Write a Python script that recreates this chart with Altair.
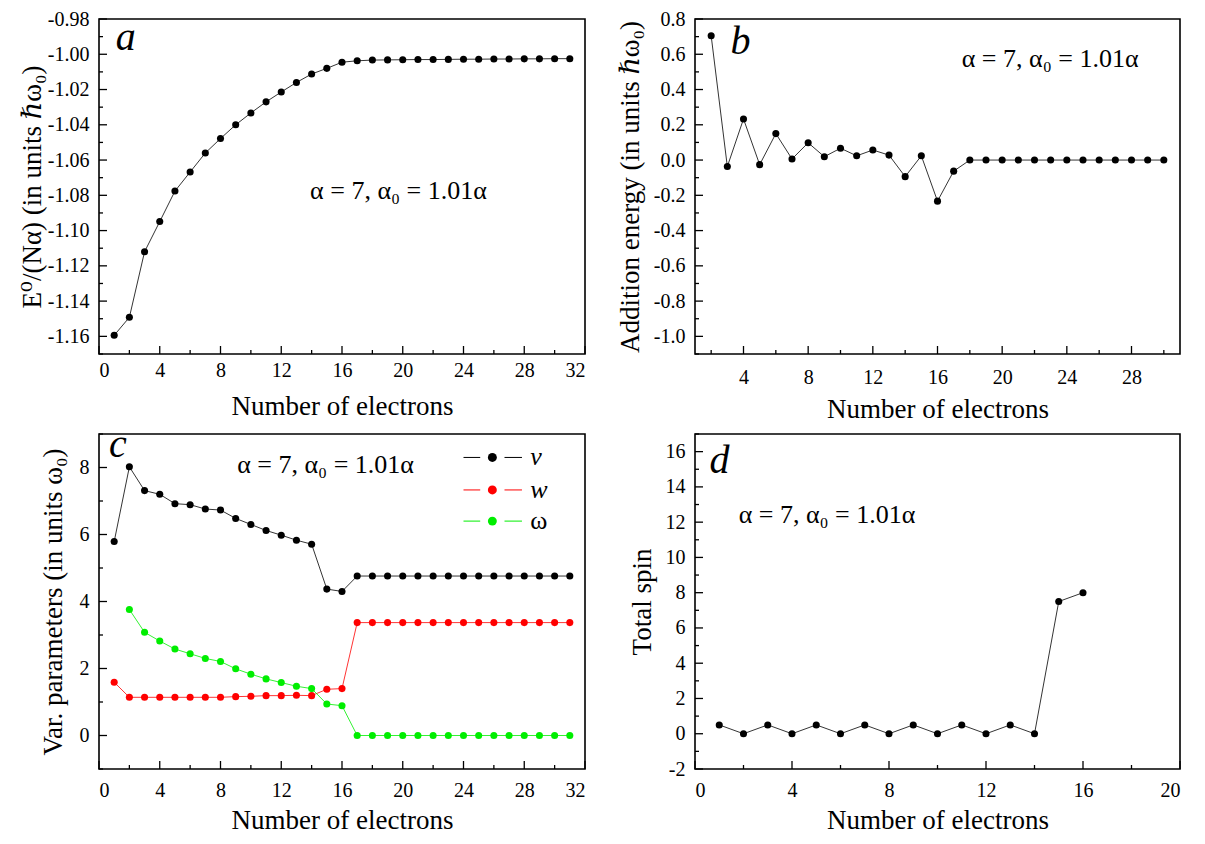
import altair as alt
import pandas as pd

# ---------------- data ----------------
# panel a: ground-state energy per particle
n_a = list(range(1, 32))
e_a = [-1.1594, -1.1492, -1.1120, -1.0949, -1.0776, -1.0668, -1.0560, -1.0478, -1.0400, -1.0333,
       -1.0270, -1.0214, -1.0160, -1.0112, -1.0080, -1.0045, -1.0037, -1.0033, -1.0032, -1.0031,
       -1.0030, -1.0030, -1.0029, -1.0028, -1.0028, -1.0027, -1.0027, -1.0026, -1.0026, -1.0025,
       -1.0025]

# panel b: addition energy
n_b = list(range(2, 31))
add_b = [0.705, -0.037, 0.233, -0.026, 0.150, 0.006, 0.098, 0.019, 0.067, 0.024,
         0.057, 0.028, -0.094, 0.024, -0.233, -0.063, 0.0, 0.0, 0.0, 0.0,
         0.0, 0.0, 0.0, 0.0, 0.0, 0.0, 0.0, 0.0, 0.0]

# panel c: variational parameters
n_c = list(range(1, 32))
v_c = [5.79, 8.02, 7.31, 7.20, 6.92, 6.89, 6.76, 6.73, 6.48, 6.30, 6.12, 5.98, 5.83, 5.71, 4.37, 4.30,
       4.76, 4.76, 4.76, 4.76, 4.76, 4.76, 4.76, 4.76, 4.76, 4.76, 4.76, 4.76, 4.76, 4.76, 4.76]
w_c = [1.59, 1.14, 1.14, 1.14, 1.14, 1.14, 1.14, 1.14, 1.16, 1.17, 1.19, 1.19, 1.20, 1.19, 1.38, 1.40,
       3.37, 3.37, 3.37, 3.37, 3.37, 3.37, 3.37, 3.37, 3.37, 3.37, 3.37, 3.37, 3.37, 3.37, 3.37]
n_om = list(range(2, 32))
om_c = [3.76, 3.08, 2.82, 2.58, 2.44, 2.30, 2.21, 1.99, 1.83, 1.69, 1.58, 1.47, 1.40, 0.94, 0.89,
        0.0, 0.0, 0.0, 0.0, 0.0, 0.0, 0.0, 0.0, 0.0, 0.0, 0.0, 0.0, 0.0, 0.0, 0.0]
series_names = ["v", "w", "ω"]
series_colors = ["#000000", "#ff0000", "#00ee00"]
series_styles = ["italic", "italic", "normal"]

# panel d: total spin
n_d = list(range(1, 17))
spin_d = [0.5, 0.0, 0.5, 0.0, 0.5, 0.0, 0.5, 0.0, 0.5, 0.0, 0.5, 0.0, 0.5, 0.0, 7.5, 8.0]

# tick values
xa_major = [0, 4, 8, 12, 16, 20, 24, 28, 32]
xa_minor = [2, 6, 10, 14, 18, 22, 26, 30]
ya_major = [-1.16, -1.14, -1.12, -1.10, -1.08, -1.06, -1.04, -1.02, -1.00, -0.98]
ya_minor = [-1.17, -1.15, -1.13, -1.11, -1.09, -1.07, -1.05, -1.03, -1.01, -0.99]
xb_major = [4, 8, 12, 16, 20, 24, 28]
xb_minor = [2, 6, 10, 14, 18, 22, 26, 30]
yb_major = [-1.0, -0.8, -0.6, -0.4, -0.2, 0.0, 0.2, 0.4, 0.6, 0.8]
yb_minor = [-1.1, -0.9, -0.7, -0.5, -0.3, -0.1, 0.1, 0.3, 0.5, 0.7]
yc_major = [0, 2, 4, 6, 8]
yc_minor = [-1, 1, 3, 5, 7, 9]
xd_major = [0, 4, 8, 12, 16, 20]
xd_minor = [2, 6, 10, 14, 18]
yd_major = [-2, 0, 2, 4, 6, 8, 10, 12, 14, 16]
yd_minor = [-1, 1, 3, 5, 7, 9, 11, 13, 15, 17]

ann_text = "α = 7, α₀ = 1.01α"

# ---------------- styling ----------------
FONT = "Liberation Serif, Times New Roman, DejaVu Serif, serif"
H = 335
W1 = 486
W2 = 485
LAB = 20      # tick label size
TIT = 27      # axis title size
ANN = 26      # annotation size
HYPHEN = "replace(datum.label, '\u2212', '-')"


def scales(xdom, ydom):
    return (alt.Scale(domain=xdom, nice=False, zero=False),
            alt.Scale(domain=ydom, nice=False, zero=False))


def axes(xvals, yvals, yfmt, ytitle, ytp, xlp, xtp):
    xa = alt.Axis(values=xvals, format="d", title="Number of electrons", tickCount=60,
                  titlePadding=xtp, labelPadding=xlp, labelOverlap=False)
    ya = alt.Axis(values=yvals, format=yfmt, title=ytitle, titlePadding=ytp, tickCount=60,
                  labelPadding=10, labelOverlap=False, labelExpr=HYPHEN)
    return xa, ya


def tick_layers(xs, ys, xa, ya, xmaj, xmin, ymaj, ymin, h):
    layers = []
    for vals, L in ((xmaj, 8), (xmin, 4)):
        d = pd.DataFrame({"x": vals})
        layers.append(alt.Chart(d).mark_rule(color="black", strokeWidth=1.3).encode(
            x=alt.X("x:Q", scale=xs, axis=xa), y=alt.value(h), y2=alt.value(h - L)))
    for vals, L in ((ymaj, 8), (ymin, 4)):
        d = pd.DataFrame({"y": vals})
        layers.append(alt.Chart(d).mark_rule(color="black", strokeWidth=1.3).encode(
            y=alt.Y("y:Q", scale=ys, axis=ya), x=alt.value(0), x2=alt.value(L)))
    return layers


def text_layer(txt, xv, yv, size, style="normal", baseline="alphabetic"):
    return alt.Chart(pd.DataFrame({"t": [txt]})).mark_text(
        font=FONT, fontSize=size, fontStyle=style, align="left", baseline=baseline,
        color="black").encode(x=alt.XDatum(xv), y=alt.YDatum(yv), text="t:N")


def simple_panel(xs_list, ys_list, xdom, ydom, xvals, yvals, yfmt, ytitle, ytp, xlp, xtp,
                 xmaj, xmin, ymaj, ymin, width, letter, lpos, apos):
    xs, ys = scales(xdom, ydom)
    xa, ya = axes(xvals, yvals, yfmt, ytitle, ytp, xlp, xtp)
    df = pd.DataFrame({"x": xs_list, "y": ys_list})
    base = alt.Chart(df)
    line = base.mark_line(color="black", strokeWidth=0.8).encode(
        x=alt.X("x:Q", scale=xs, axis=xa), y=alt.Y("y:Q", scale=ys, axis=ya))
    pts = base.mark_circle(color="black", size=50, opacity=1).encode(
        x=alt.X("x:Q", scale=xs, axis=xa), y=alt.Y("y:Q", scale=ys, axis=ya))
    layers = tick_layers(xs, ys, xa, ya, xmaj, xmin, ymaj, ymin, H)
    layers += [line, pts,
               text_layer(letter, lpos[0], lpos[1], 40, "italic"),
               text_layer(ann_text, apos[0], apos[1], ANN)]
    return alt.layer(*layers).properties(width=width, height=H)


pa = simple_panel(n_a, e_a, [0, 32], [-1.17, -0.98], xa_major, ya_major, ".2f",
                  "E⁰/(Nα) (in units ℏω₀)", 1, 6, 13, xa_major, xa_minor, ya_major, ya_minor,
                  W1, "a", (1.1, -0.9975), (13.9, -1.082))

pb = simple_panel(n_b, add_b, [1, 31], [-1.1, 0.8], xb_major, yb_major, ".1f",
                  "Addition energy (in units ℏω₀)", 9, 13, 9, xb_major, xb_minor, yb_major, yb_minor,
                  W2, "b", (3.2, 0.60), (17.5, 0.525))

pd_ = simple_panel(n_d, spin_d, [0, 20], [-2, 17], xd_major, yd_major, "d",
                   "Total spin", 9, 11, 7, xd_major, xd_minor, yd_major, yd_minor,
                   W2, "d", (0.6, 14.8), (1.8, 11.94))

# panel c
xs_c, ys_c = scales([0, 32], [-1, 9])
xa_c, ya_c = axes(xa_major, yc_major, "d", "Var. parameters (in units ω₀)", 12, 11, 7)
df_c = pd.DataFrame({
    "x": n_c + n_c + n_om,
    "y": v_c + w_c + om_c,
    "s": [series_names[0]] * len(n_c) + [series_names[1]] * len(n_c) + [series_names[2]] * len(n_om),
})
cscale = alt.Scale(domain=series_names, range=series_colors)
base_c = alt.Chart(df_c)
line_c = base_c.mark_line(strokeWidth=0.8).encode(
    x=alt.X("x:Q", scale=xs_c, axis=xa_c), y=alt.Y("y:Q", scale=ys_c, axis=ya_c),
    color=alt.Color("s:N", scale=cscale, legend=None), detail="s:N")
pts_c = base_c.mark_circle(size=50, opacity=1).encode(
    x=alt.X("x:Q", scale=xs_c, axis=xa_c), y=alt.Y("y:Q", scale=ys_c, axis=ya_c),
    color=alt.Color("s:N", scale=cscale, legend=None))
layers_c = tick_layers(xs_c, ys_c, xa_c, ya_c, xa_major, xa_minor, yc_major, yc_minor, H)
layers_c += [line_c, pts_c,
             text_layer("c", 0.66, 8.3, 40, "italic"),
             text_layer(ann_text, 9.1, 7.83, ANN)]

# hand-made legend (line - dot - line, label), placed in data units
leg_rows = [8.3, 7.33, 6.4]
for name, col, sty, yv in zip(series_names, series_colors, series_styles, leg_rows):
    d = pd.DataFrame({"t": [name]})
    for x1, x2 in ((24.0, 25.1), (26.7, 27.85)):
        layers_c.append(alt.Chart(d).mark_rule(color=col, strokeWidth=1).encode(
            x=alt.XDatum(x1), x2=alt.X2Datum(x2), y=alt.YDatum(yv)))
    layers_c.append(alt.Chart(d).mark_circle(color=col, size=80, opacity=1).encode(
        x=alt.XDatum(25.9), y=alt.YDatum(yv)))
    layers_c.append(text_layer(name, 28.4, yv, ANN, sty, "middle"))

pc = alt.layer(*layers_c).properties(width=W1, height=H)

chart = alt.concat(pa, pb, pc, pd_, columns=2, spacing={"row": 80, "column": 110}).properties(
    bounds="flush"
).configure(
    font=FONT, padding={"left": 9, "top": 0, "right": 2, "bottom": 0}
).configure_view(
    stroke="black", strokeWidth=1.6
).configure_axis(
    ticks=False, domain=False, grid=False, labelOverlap=False,
    labelFont=FONT, labelFontSize=LAB, labelColor="black",
    titleFont=FONT, titleFontSize=TIT, titleFontWeight="normal", titleColor="black"
)

chart.save("out.html", embed_options={"renderer": "svg", "actions": False})
